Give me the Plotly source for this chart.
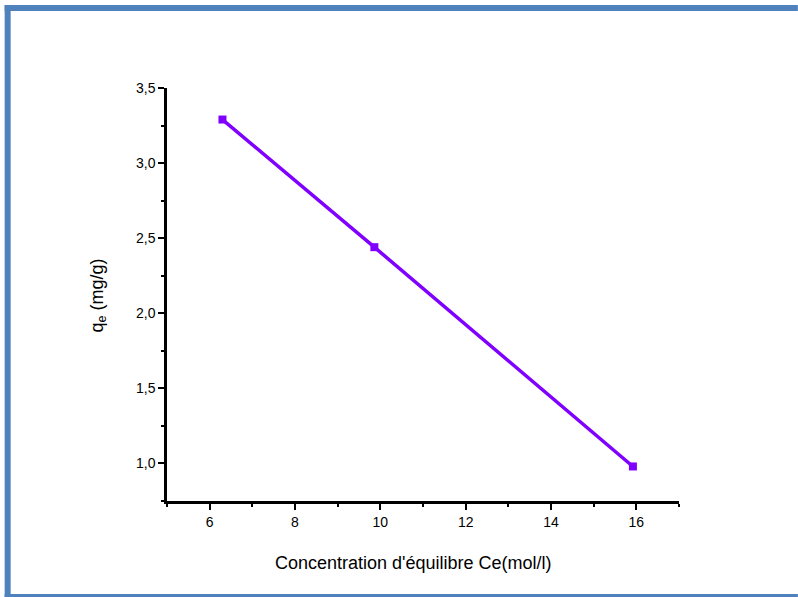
import plotly.graph_objects as go

# Equilibrium data
ce = [6.30, 9.86, 15.92]          # Ce (mol/l)
qe = [3.29, 2.44, 0.98]           # qe (mg/g)
x_ticks = [6, 8, 10, 12, 14, 16]
y_ticks = [1.0, 1.5, 2.0, 2.5, 3.0, 3.5]

W, H = 798, 597
L, R, T, B = 166.5, 119, 88, 96
PW, PH = W - L - R, H - T - B

FONT = "Liberation Sans, Arial"


def px(x):
    return (x - L) / PW


def py(y):
    return 1 - (y - T) / PH


fig = go.Figure()
fig.add_trace(go.Scatter(
    x=ce, y=qe, mode="lines+markers",
    line=dict(color="#8000FF", width=3.5),
    marker=dict(symbol="square", size=8, color="#8000FF"),
    showlegend=False,
))

axis_common = dict(
    showgrid=False, zeroline=False, showline=True, linecolor="black", linewidth=2.5,
    ticks="outside", ticklen=6, tickwidth=2, tickcolor="black",
    tickfont=dict(family=FONT, size=14, color="black"),
)

fig.update_xaxes(range=[5, 17], tickvals=x_ticks, ticktext=[str(v) for v in x_ticks],
                 minor=dict(tickvals=[5, 7, 9, 11, 13, 15, 17], ticklen=3, tickwidth=2,
                            ticks="outside", tickcolor="black"),
                 **axis_common)
fig.update_yaxes(range=[0.75, 3.5], tickvals=y_ticks,
                 ticktext=[f"{v:.1f}".replace(".", ",") for v in y_ticks],
                 minor=dict(tickvals=[0.75, 1.25, 1.75, 2.25, 2.75, 3.25], ticklen=3,
                            tickwidth=2, ticks="outside", tickcolor="black"),
                 **axis_common)

frame = "#4F81BD"
shapes = [
    # left bar
    dict(type="rect", xref="paper", yref="paper", x0=px(4), x1=px(10), y0=py(597), y1=py(5),
         fillcolor=frame, line=dict(width=0), layer="above"),
    # top bar
    dict(type="rect", xref="paper", yref="paper", x0=px(4), x1=px(798), y0=py(11), y1=py(5),
         fillcolor=frame, line=dict(width=0), layer="above"),
    # bottom line
    dict(type="rect", xref="paper", yref="paper", x0=px(4), x1=px(798), y0=py(597), y1=py(594),
         fillcolor=frame, line=dict(width=0), layer="above"),
]

annotations = [
    dict(text="q<sub>e</sub> (mg/g)", xref="paper", yref="paper", x=px(97), y=py(296),
         textangle=-90, showarrow=False, xanchor="center", yanchor="middle",
         font=dict(family=FONT, size=18, color="black")),
    dict(text="Concentration d'équilibre Ce(mol/l)", xref="paper", yref="paper",
         x=px(413), y=py(563), showarrow=False, xanchor="center", yanchor="middle",
         font=dict(family=FONT, size=18, color="black")),
]

fig.update_layout(
    width=W, height=H,
    margin=dict(l=L, r=R, t=T, b=B, pad=0),
    paper_bgcolor="white", plot_bgcolor="white",
    shapes=shapes, annotations=annotations,
)

fig.write_html("out.html")
